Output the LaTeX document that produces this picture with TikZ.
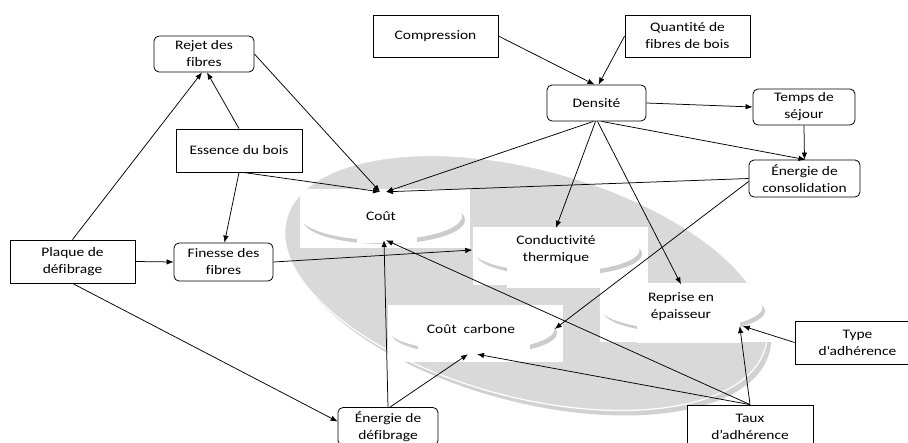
\documentclass[tikz,border=0pt]{standalone}
\usepackage{fontspec}
\setmainfont{Carlito}[FakeStretch=1.19,Ligatures=NoCommon]
\usetikzlibrary{arrows.meta,shapes.geometric}
\definecolor{ellgrey}{RGB}{217,217,217}
\begin{document}
\begin{tikzpicture}[x=1pt,y=-1pt,
  every node/.style={font=\fontsize{13}{17}\selectfont, align=center, inner sep=0pt},
  sqbox/.style={draw=black, line width=0.8pt, fill=white},
  rdbox/.style={sqbox, rounded corners=5pt},
  oval/.style={ellipse, fill=white},
  conn/.style={-{Latex[length=7pt,width=5.5pt]}, line width=0.75pt},
  patch/.style={fill=white, draw=none},
  shade/.style={fill=black, opacity=0.2}]
\useasboundingbox (0,0) rectangle (908,442);
% large grey ellipse
\fill[black, opacity=0.18, rotate around={-15:(530,288)}] (530,288) ellipse [x radius=248, y radius=114];
\fill[ellgrey, draw=white, line width=1.2pt, rotate around={-15:(526,283)}] (526,283) ellipse [x radius=248, y radius=114];
% Cout
\fill[patch] (300,189) rectangle (470,248);
\fill[shade] (384,220) ellipse [x radius=81, y radius=24];
\fill[patch] (357,228) rectangle (417,243);
\node[oval, minimum width=162pt, minimum height=48pt] (cout) at (381,216) {Coût};
% Conductivite
\fill[patch] (473,227) rectangle (648,285);
\fill[shade] (559,254) ellipse [x radius=83, y radius=22];
\fill[patch] (507,262) rectangle (600,288);
\node[oval, minimum width=167pt, minimum height=44pt] (cond) at (556,250) {Conductivité\\thermique};
% Cout carbone
\fill[patch] (388,305) rectangle (563,362);
\fill[shade] (474,333) ellipse [x radius=83, y radius=22];
\fill[patch] (418,340) rectangle (530,357);
\node[oval, minimum width=167pt, minimum height=44pt] (carb) at (471,329) {Coût~~carbone};
% Reprise
\fill[patch] (600,283) rectangle (773,342);
\fill[shade] (684,311) ellipse [x radius=81, y radius=22];
\fill[patch] (637,318) rectangle (740,343);
\node[oval, minimum width=163pt, minimum height=45pt] (repr) at (681,307) {Reprise en\\épaisseur};
% boxes
\node[rdbox, minimum width=100pt, minimum height=36pt] (rejet) at (204,54) {Rejet des\\fibres};
\node[sqbox, minimum width=125pt, minimum height=42pt] (compr) at (435.5,36) {Compression};
\node[sqbox, minimum width=125pt, minimum height=42pt] (quant) at (687.5,36) {Quantité de\\fibres de bois};
\node[rdbox, minimum width=99pt, minimum height=36pt] (dens) at (596.5,103) {Densité};
\node[rdbox, minimum width=102pt, minimum height=36pt] (temps) at (804,107) {Temps de\\séjour};
\node[rdbox, minimum width=111pt, minimum height=37pt] (econs) at (804.5,178.5) {Énergie de\\consolidation};
\node[sqbox, minimum width=126pt, minimum height=43pt] (ess) at (239,150.5) {Essence du bois};
\node[sqbox, minimum width=125pt, minimum height=43pt] (plaque) at (72.5,261.5) {Plaque de\\défibrage};
\node[rdbox, minimum width=99pt, minimum height=38pt] (fin) at (223.5,262) {Finesse des\\fibres};
\node[rdbox, minimum width=100pt, minimum height=38pt] (edef) at (388,426.5) {Énergie de\\défibrage};
\node[sqbox, minimum width=125pt, minimum height=43pt] (type) at (857.5,342.5) {Type\\d\textquotesingle adhérence};
\node[sqbox, minimum width=126pt, minimum height=44pt] (taux) at (750,427) {Taux\\d’adhérence};
% connectors
\draw[conn] (plaque.north) -- ([xshift=-2pt]rejet.south);
\draw[conn] (ess.north) -- ([xshift=3pt]rejet.south);
\draw[conn] (rejet.east) -- ([xshift=-1pt]cout.north);
\draw[conn] ([xshift=4pt]ess.south) -- ([xshift=-1pt]cout.north);
\draw[conn] (ess.south) -- ([xshift=1pt]fin.north);
\draw[conn] (plaque.east) -- (fin.west);
\draw[conn] (fin.east) -- (cond.west);
\draw[conn] (plaque.south) -- ([yshift=5pt]edef.west);
\draw[conn] (edef.north) -- ([xshift=3pt]cout.south);
\draw[conn] ([xshift=2pt]edef.north) -- ([xshift=-3pt,yshift=-3pt]carb.south);
\draw[conn] (taux.north) -- ([xshift=5pt]cout.south);
\draw[conn] (taux.north) -- ([xshift=6pt,yshift=-3pt]carb.south);
\draw[conn] (taux.north) -- ([xshift=1pt,yshift=-3pt]repr.south east);
\draw[conn] (type.west) -- ([xshift=4pt,yshift=-3pt]repr.south east);
\draw[conn] (compr.east) -- ([xshift=-2pt]dens.north);
\draw[conn] (quant.west) -- ([xshift=2pt]dens.north);
\draw[conn] (dens.east) -- (temps.west);
\draw[conn] (temps.south) -- (econs.north);
\draw[conn] ([xshift=5pt]dens.south) -- ([xshift=1pt]econs.north);
\draw[conn] ([xshift=-3pt]dens.south) -- ([xshift=5pt]cout.north);
\draw[conn] ([xshift=-1pt]dens.south) -- (cond.north);
\draw[conn] ([xshift=1pt]dens.south) -- (repr.north);
\draw[conn] (econs.west) -- ([xshift=5pt]cout.north);
\draw[conn] ([yshift=-3pt]econs.west) -- (carb.east);
\end{tikzpicture}
\end{document}
